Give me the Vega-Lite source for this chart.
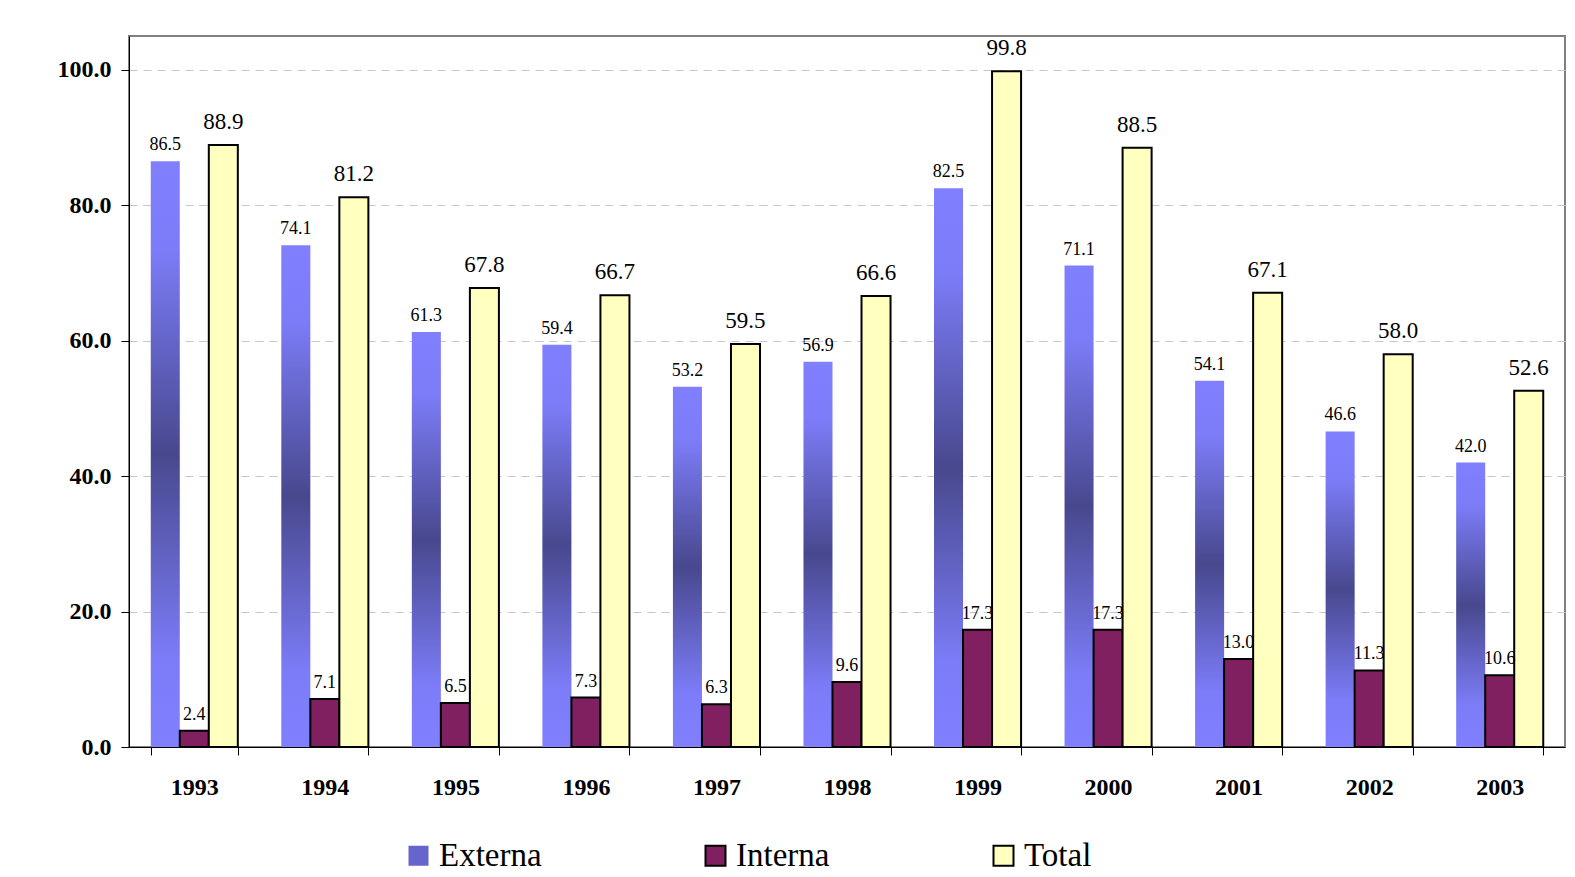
{
  "$schema": "https://vega.github.io/schema/vega-lite/v6.json",
  "width": 1436,
  "height": 711,
  "autosize": {"type": "none"},
  "padding": {"left": 129, "top": 36, "right": 10, "bottom": 130},
  "background": "white",
  "config": {
    "view": {"stroke": "#808080", "strokeWidth": 2},
    "font": "Liberation Serif"
  },
  "data": {
    "values": [
      {"year": "1993", "series": "Externa", "value": 86.5},
      {"year": "1993", "series": "Interna", "value": 2.4},
      {"year": "1993", "series": "Total", "value": 88.9},
      {"year": "1994", "series": "Externa", "value": 74.1},
      {"year": "1994", "series": "Interna", "value": 7.1},
      {"year": "1994", "series": "Total", "value": 81.2},
      {"year": "1995", "series": "Externa", "value": 61.3},
      {"year": "1995", "series": "Interna", "value": 6.5},
      {"year": "1995", "series": "Total", "value": 67.8},
      {"year": "1996", "series": "Externa", "value": 59.4},
      {"year": "1996", "series": "Interna", "value": 7.3},
      {"year": "1996", "series": "Total", "value": 66.7},
      {"year": "1997", "series": "Externa", "value": 53.2},
      {"year": "1997", "series": "Interna", "value": 6.3},
      {"year": "1997", "series": "Total", "value": 59.5},
      {"year": "1998", "series": "Externa", "value": 56.9},
      {"year": "1998", "series": "Interna", "value": 9.6},
      {"year": "1998", "series": "Total", "value": 66.6},
      {"year": "1999", "series": "Externa", "value": 82.5},
      {"year": "1999", "series": "Interna", "value": 17.3},
      {"year": "1999", "series": "Total", "value": 99.8},
      {"year": "2000", "series": "Externa", "value": 71.1},
      {"year": "2000", "series": "Interna", "value": 17.3},
      {"year": "2000", "series": "Total", "value": 88.5},
      {"year": "2001", "series": "Externa", "value": 54.1},
      {"year": "2001", "series": "Interna", "value": 13.0},
      {"year": "2001", "series": "Total", "value": 67.1},
      {"year": "2002", "series": "Externa", "value": 46.6},
      {"year": "2002", "series": "Interna", "value": 11.3},
      {"year": "2002", "series": "Total", "value": 58.0},
      {"year": "2003", "series": "Externa", "value": 42.0},
      {"year": "2003", "series": "Interna", "value": 10.6},
      {"year": "2003", "series": "Total", "value": 52.6}
    ]
  },
  "encoding": {
    "x": {
      "field": "year",
      "type": "ordinal",
      "scale": {"paddingInner": 0.333, "paddingOuter": 0.1667},
      "axis": {
        "title": null,
        "labelAngle": 0,
        "labelFont": "Liberation Serif",
        "labelFontSize": 24,
        "labelFontWeight": "bold",
        "labelColor": "black",
        "labelPadding": 20,
        "tickSize": 8,
        "tickBand": "extent",
        "tickColor": "black",
        "domainColor": "black",
        "grid": false
      }
    },
    "xOffset": {
      "field": "series",
      "type": "nominal",
      "scale": {"domain": ["Externa", "Interna", "Total"], "paddingInner": 0, "paddingOuter": 0}
    },
    "y": {
      "field": "value",
      "type": "quantitative",
      "scale": {"domain": [0, 105], "nice": false},
      "axis": {
        "title": null,
        "values": [0, 20, 40, 60, 80, 100],
        "format": ".1f",
        "labelFont": "Liberation Serif",
        "labelFontSize": 24,
        "labelFontWeight": "bold",
        "labelColor": "black",
        "labelPadding": 10,
        "tickSize": 8,
        "tickColor": "black",
        "domainColor": "black",
        "grid": true,
        "gridColor": "#C8C8C8",
        "gridDash": [8, 6]
      }
    }
  },
  "layer": [
    {
      "transform": [{"filter": "datum.series == 'Externa'"}],
      "mark": {
        "type": "bar",
        "strokeWidth": 0,
        "fill": {"gradient": "linear", "x1": 0, "y1": 0, "x2": 0, "y2": 1,
          "stops": [
            {"offset": 0, "color": "#8080FF"},
            {"offset": 0.15, "color": "#7C7CF8"},
            {"offset": 0.5, "color": "#48488E"},
            {"offset": 0.85, "color": "#7C7CF8"},
            {"offset": 1, "color": "#8080FF"}
          ]}
      }
    },
    {
      "transform": [{"filter": "datum.series != 'Externa'"}],
      "mark": {"type": "bar", "strokeWidth": 2},
      "encoding": {
        "fill": {
          "field": "series",
          "type": "nominal",
          "scale": {
            "domain": ["Externa", "Interna", "Total"],
            "range": ["#6565CC", "#802060", "#FFFFC0"]
          },
          "legend": {
            "title": null,
            "orient": "none",
            "legendX": 273,
            "legendY": 803,
            "direction": "horizontal",
            "columns": 3,
            "columnPadding": 157,
            "padding": 0,
            "labelFont": "Liberation Serif",
            "labelFontSize": 33,
            "labelColor": "black",
            "labelOffset": 4,
            "symbolType": "square",
            "symbolSize": 400,
            "symbolStrokeWidth": 2
          }
        },
        "stroke": {
          "field": "series",
          "type": "nominal",
          "scale": {
            "domain": ["Externa", "Interna", "Total"],
            "range": ["transparent", "#000000", "#000000"]
          },
          "legend": {
            "title": null,
            "orient": "none",
            "legendX": 273,
            "legendY": 803,
            "direction": "horizontal",
            "columns": 3,
            "columnPadding": 157,
            "padding": 0,
            "labelFont": "Liberation Serif",
            "labelFontSize": 33,
            "labelColor": "black",
            "labelOffset": 4,
            "symbolType": "square",
            "symbolSize": 400,
            "symbolStrokeWidth": 2
          }
        }
      }
    },
    {
      "transform": [{"filter": "datum.series != 'Total'"}],
      "mark": {"type": "text", "baseline": "bottom", "fontSize": 18, "dy": -7, "color": "black", "font": "Liberation Serif"},
      "encoding": {
        "text": {"field": "value", "type": "quantitative", "format": ".1f"}
      }
    },
    {
      "transform": [{"filter": "datum.series == 'Total'"}],
      "mark": {"type": "text", "baseline": "bottom", "fontSize": 23, "dy": -11, "color": "black", "font": "Liberation Serif"},
      "encoding": {
        "text": {"field": "value", "type": "quantitative", "format": ".1f"}
      }
    }
  ]
}
